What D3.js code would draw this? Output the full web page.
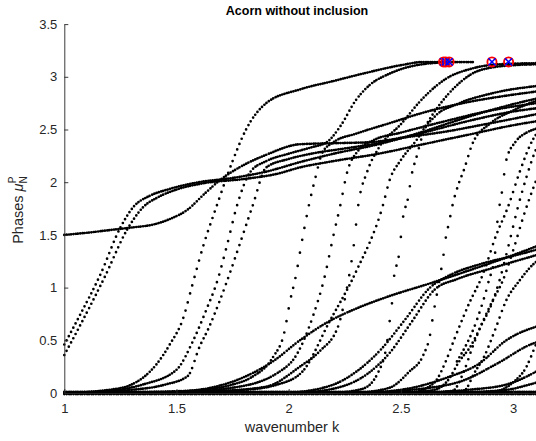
<!DOCTYPE html>
<html>
<head>
<meta charset="utf-8">
<script src="https://cdn.jsdelivr.net/npm/d3@7"></script>
<style>
  body { margin: 0; background: #fff; }
  svg { display: block; font-family: "Liberation Sans", Arial, sans-serif; }
</style>
</head>
<body>
<svg id="svg"></svg>
<script>
// axis ticks
const xTicks = [1, 1.5, 2, 2.5, 3];
const yTicks = [0, 0.5, 1, 1.5, 2, 2.5, 3, 3.5];

// phase curves: [k, mu]
const c1 = [[1,1.5],[1.1,1.52],[1.2,1.545],[1.3,1.57],[1.4,1.6],[1.47,1.65],[1.55,1.74],[1.62,1.88],[1.7,2.03],[1.78,2.14],[1.9,2.26],[2.05,2.36],[2.2,2.37],[2.37,2.38],[2.5,2.42],[2.7,2.48],[2.9,2.56],[3.14,2.66]];
const c2 = [[1,0.46],[1.07,0.74],[1.16,1.12],[1.25,1.57],[1.31,1.77],[1.38,1.87],[1.46,1.93],[1.6,2.0],[1.75,2.04],[1.9,2.1],[2.05,2.19],[2.2,2.27],[2.4,2.36],[2.6,2.48],[2.8,2.62],[3.0,2.74],[3.14,2.81]];
const c3 = [[1,0.36],[1.08,0.68],[1.18,1.1],[1.28,1.55],[1.35,1.76],[1.42,1.86],[1.5,1.93],[1.62,1.99],[1.8,2.03],[1.95,2.08],[2.05,2.14],[2.2,2.2],[2.4,2.27],[2.6,2.36],[2.8,2.45],[3.0,2.54],[3.14,2.59]];
const c4 = [[1,0],[1.2,0.03],[1.3,0.08],[1.41,0.27],[1.47,0.46],[1.53,0.71],[1.57,1.02],[1.62,1.4],[1.68,1.78],[1.75,2.2],[1.81,2.5],[1.9,2.75],[2.05,2.88],[2.2,2.96],[2.35,3.04],[2.5,3.11],[2.6,3.14],[2.83,3.14]];
const c5 = [[1,0],[1.2,0.02],[1.35,0.08],[1.5,0.22],[1.575,0.5],[1.635,0.8],[1.68,1.05],[1.725,1.4],[1.77,1.78],[1.83,2.1],[1.9,2.2],[2.0,2.27],[2.1,2.33],[2.17,2.38],[2.23,2.53],[2.3,2.78],[2.36,2.92],[2.45,3.03],[2.57,3.11],[2.72,3.14]];
const c6 = [[1,0],[1.3,0.03],[1.45,0.08],[1.55,0.16],[1.605,0.45],[1.64,0.6],[1.69,0.86],[1.74,1.15],[1.78,1.4],[1.84,1.78],[1.9,2.14],[2.0,2.22],[2.1,2.27],[2.25,2.32],[2.4,2.37],[2.6,2.47],[2.8,2.58],[3.0,2.67],[3.14,2.71]];
const c7 = [[1,0],[1.4,0.01],[1.61,0.03],[1.75,0.08],[1.835,0.15],[1.93,0.34],[1.98,0.57],[2.007,0.88],[2.03,1.09],[2.06,1.45],[2.09,1.78],[2.12,2.05],[2.15,2.28],[2.2,2.38],[2.3,2.46],[2.45,2.56],[2.6,2.66],[2.8,2.76],[3.0,2.83],[3.14,2.87]];
const c8 = [[1.1,0],[1.5,0.01],[1.75,0.05],[1.95,0.19],[2.04,0.38],[2.11,0.74],[2.16,1.1],[2.2,1.5],[2.23,1.78],[2.26,2.09],[2.31,2.3],[2.38,2.4],[2.5,2.47],[2.7,2.58],[2.9,2.68],[3.14,2.76]];
const c9 = [[1.2,0],[1.7,0.02],[1.9,0.06],[2.05,0.25],[2.14,0.4],[2.22,0.63],[2.26,1.0],[2.29,1.4],[2.31,1.78],[2.35,2.1],[2.4,2.32],[2.5,2.55],[2.6,2.8],[2.7,2.98],[2.82,3.08],[2.95,3.12],[3.14,3.13]];
const c10 = [[1.3,0],[1.8,0.03],[1.95,0.08],[2.06,0.2],[2.18,0.67],[2.3,1.15],[2.42,1.78],[2.45,2.02],[2.5,2.21],[2.57,2.4],[2.66,2.7],[2.75,2.92],[2.85,3.06],[3.0,3.11],[3.14,3.12]];
const s1 = [[1.4,0],[1.6,0.03],[1.8,0.15],[1.93,0.3],[2.05,0.5],[2.18,0.68],[2.3,0.8],[2.45,0.92],[2.63,1.04],[2.8,1.16],[2.95,1.27],[3.14,1.42]];
const v1 = [[2.2,0],[2.33,0.04],[2.4,0.2],[2.44,0.5],[2.457,0.81],[2.466,0.95],[2.47,1.11],[2.49,1.29],[2.5,1.48],[2.51,1.67],[2.53,1.83],[2.55,2.09],[2.57,2.24],[2.6,2.47],[2.65,2.62],[2.75,2.74],[2.9,2.84],[3.14,2.92]];
const v2 = [[2.3,0],[2.45,0.05],[2.536,0.2],[2.6,0.36],[2.63,0.55],[2.644,0.74],[2.67,1.05],[2.69,1.31],[2.7,1.47],[2.715,1.62],[2.73,1.78],[2.76,2.0],[2.78,2.11],[2.82,2.37],[2.9,2.56],[3.0,2.68],[3.14,2.8]];
const v3 = [[2.75,0.3],[2.84,0.7],[2.89,1.05],[2.92,1.33],[2.93,1.62],[2.95,1.9],[2.97,2.21],[3.01,2.38],[3.06,2.47],[3.14,2.52]];
const r1 = [[2.0,0],[2.2,0.08],[2.3,0.2],[2.41,0.41],[2.52,0.7],[2.63,1.0],[2.72,1.12],[2.85,1.22],[3.0,1.3],[3.14,1.38]];
const r2 = [[2.05,0],[2.25,0.07],[2.35,0.18],[2.45,0.38],[2.55,0.68],[2.65,0.98],[2.75,1.08],[2.9,1.18],[3.14,1.33]];
const r3 = [[2.5,0],[2.65,0.03],[2.71,0.12],[2.76,0.3],[2.81,0.44],[2.86,0.65],[2.9,0.82],[2.94,1.07],[2.98,1.4],[3.02,1.75],[3.06,2.05],[3.1,2.3],[3.14,2.45]];
const r4 = [[2.6,0],[2.73,0.02],[2.78,0.2],[2.82,0.44],[2.87,0.7],[2.91,0.88],[2.955,1.07],[3.0,1.35],[3.05,1.7],[3.1,2.0],[3.14,2.2]];
const r5 = [[2.65,0],[2.78,0.02],[2.83,0.2],[2.87,0.34],[2.92,0.6],[2.97,0.88],[3.03,1.07],[3.08,1.2],[3.14,1.3]];
const r6 = [[2.55,0],[2.65,0.1],[2.7,0.3],[2.74,0.52],[2.8,0.83],[2.87,1.15],[2.92,1.47],[2.98,1.78],[3.03,2.1],[3.08,2.37],[3.14,2.55]];
const r7 = [[2.3,0],[2.5,0.03],[2.71,0.15],[2.85,0.28],[2.97,0.5],[3.09,0.62],[3.14,0.65]];
const r8 = [[2.35,0],[2.55,0.03],[2.78,0.12],[2.93,0.28],[3.09,0.47],[3.14,0.5]];
const r9 = [[2.6,0],[2.8,0.03],[2.97,0.08],[3.1,0.2],[3.14,0.25]];
const r10 = [[2.7,0],[2.97,0.03],[3.09,0.09],[3.14,0.12]];
const r11 = [[2.9,0],[3.0,0.1],[3.06,0.25],[3.1,0.45],[3.14,0.65]];
const b1 = [[1,0],[3.14,0]];
const b2 = [[1,0.012],[3.14,0.012]];
const b3 = [[1,-0.01],[3.14,-0.01]];

const curves = [c1, c2, c3, c4, c5, c6, c7, c8, c9, c10, s1, v1, v2, v3,
  r1, r2, r3, r4, r5, r6, r7, r8, r9, r10, r11, b1, b2, b3];

// points marked at mu = pi
const markK = [2.69, 2.70, 2.715, 2.906, 2.98];
const markMu = [3.1416, 3.1416, 3.1416, 3.1416, 3.1416];

const kStep = 0.01;   // spacing of the plotted samples along k

const width = 536, height = 441;
const svg = d3.select('#svg')
    .attr('width', width)
    .attr('height', height)
    .attr('viewBox', [0, 0, width, height]);

const x = d3.scaleLinear().domain([1, 3.1]).range([64.3, 535.5]);
const y = d3.scaleLinear().domain([0, 3.5]).range([393, 24.1]);

svg.append('clipPath').attr('id', 'clip')
  .append('rect')
    .attr('x', x(1) - 3).attr('y', y(3.5) - 3)
    .attr('width', width - x(1) + 3).attr('height', y(0) - y(3.5) + 6);

const line = d3.line()
    .x(d => x(d[0]))
    .y(d => y(d[1]))
    .curve(d3.curveMonotoneX);

// dash pattern that puts a dot every kStep along x, like a sampled curve
function sampleDash(node) {
  const step = x(1 + kStep) - x(1);
  const total = node.getTotalLength();
  const stops = [0];
  let nextX = node.getPointAtLength(0).x + step;
  for (let l = 0.4; l <= total; l += 0.4) {
    if (node.getPointAtLength(l).x >= nextX) {
      stops.push(l);
      nextX += step;
    }
  }
  const dash = [];
  for (let i = 1; i < stops.length; i++) dash.push(0, stops[i] - stops[i - 1]);
  dash.push(0, total + 10);
  return dash.join(' ');
}

const plot = svg.append('g').attr('clip-path', 'url(#clip)');

plot.selectAll('path.curve')
  .data(curves)
  .join('path')
    .attr('class', 'curve')
    .attr('d', line)
    .attr('fill', 'none')
    .attr('stroke', '#000')
    .attr('stroke-width', 2.7)
    .attr('stroke-linecap', 'round')
    .each(function () { d3.select(this).attr('stroke-dasharray', sampleDash(this)); });

const marks = plot.selectAll('g.mark')
  .data(d3.range(markK.length))
  .join('g')
    .attr('class', 'mark')
    .attr('transform', i => `translate(${x(markK[i])},${y(markMu[i])})`);

marks.append('circle')
    .attr('r', 4.6)
    .attr('fill', 'none')
    .attr('stroke', '#ff0000')
    .attr('stroke-width', 1.8);

marks.append('path')
    .attr('d', 'M-3.6,-3.6L3.6,3.6M-3.6,3.6L3.6,-3.6')
    .attr('stroke', '#0000ff')
    .attr('stroke-width', 1.6);

// axes
const axisColor = '#262626';

const gx = svg.append('g')
    .attr('transform', `translate(0,${y(0)})`)
    .call(d3.axisBottom(x).tickValues(xTicks).tickSize(-4).tickSizeOuter(0).tickPadding(11).tickFormat(d => String(d)));

const gy = svg.append('g')
    .attr('transform', `translate(${x(1)},0)`)
    .call(d3.axisLeft(y).tickValues(yTicks).tickSize(-4).tickSizeOuter(0).tickPadding(7).tickFormat(d => String(d)));

for (const g of [gx, gy]) {
  g.select('.domain').attr('stroke', axisColor).attr('stroke-width', 0.9);
  g.selectAll('.tick line').attr('stroke', axisColor).attr('stroke-width', 0.9);
  g.selectAll('.tick text')
      .attr('fill', axisColor)
      .attr('font-size', 13)
      .attr('font-family', '"Liberation Sans", Arial, sans-serif');
}

svg.append('text')
    .attr('x', 297)
    .attr('y', 15)
    .attr('text-anchor', 'middle')
    .attr('font-size', 12.5)
    .attr('font-weight', 'bold')
    .attr('fill', '#000')
    .text('Acorn without inclusion');

svg.append('text')
    .attr('x', 292)
    .attr('y', 432)
    .attr('text-anchor', 'middle')
    .attr('font-size', 14.5)
    .attr('fill', axisColor)
    .text('wavenumber k');

const yl = svg.append('text')
    .attr('transform', 'translate(23,210) rotate(-90)')
    .attr('text-anchor', 'middle')
    .attr('font-size', 14.5)
    .attr('fill', axisColor);
yl.append('tspan').text('Phases  ');
yl.append('tspan').attr('font-style', 'italic').text('\u03bc');
yl.append('tspan').attr('font-size', 10).attr('dy', 4).text('N');
yl.append('tspan').attr('font-size', 10).attr('dx', -7).attr('dy', -11).text('P');
</script>
</body>
</html>
